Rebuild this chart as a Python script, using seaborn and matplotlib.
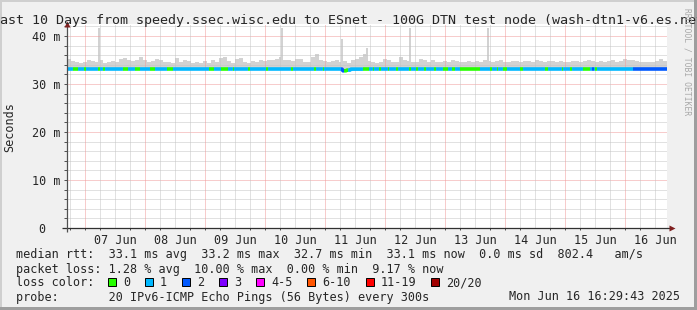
import numpy as np
import pandas as pd
import matplotlib
matplotlib.use("Agg")
import matplotlib.pyplot as plt
from matplotlib.patches import Rectangle
from matplotlib.lines import Line2D
from matplotlib.ticker import MultipleLocator, FixedLocator
import seaborn as sns

# ---------------- data ----------------
start = pd.Timestamp("2025-06-06 16:48")
end = pd.Timestamp("2025-06-16 16:48")
span_hours = 240.0
bin_hours = 1.6          # width of one smoke bin

# smoke (max rtt per bin, ms)
smoke_max = [
    35.3, 34.8, 34.5, 34.3, 34.6, 35.1, 34.8, 34.6, 34.9, 34.4, 34.6, 34.8, 34.5, 35.2, 35.5, 34.9, 34.7, 35.1, 35.7, 35.0, 34.6, 34.8, 35.2, 34.9, 34.5,
    34.6, 34.3, 35.5, 34.5, 35.1, 34.8, 34.3, 34.6, 34.4, 34.8, 34.3, 34.9, 34.5, 35.5, 35.7, 34.8, 34.4, 35.2, 35.4, 34.6, 34.3, 34.7, 34.5, 35.0, 34.7,
    34.9, 34.9, 35.3, 35.6, 34.9, 34.9, 34.8, 35.2, 35.2, 34.6, 34.5, 35.6, 36.3, 34.9, 34.8, 34.5, 34.8, 34.9, 34.5, 34.7, 34.4, 34.9, 35.2, 35.6, 36.3,
    34.7, 34.5, 34.3, 34.6, 35.2, 35.1, 34.6, 34.5, 35.6, 34.9, 34.8, 34.6, 34.5, 35.2, 35.1, 34.5, 34.9, 34.6, 34.5, 34.8, 34.5, 34.9, 34.8, 34.6, 34.5,
    34.8, 34.5, 34.7, 34.6, 34.9, 34.7, 34.5, 34.8, 34.9, 34.6, 34.5, 34.8, 34.7, 34.5, 34.8, 34.7, 34.6, 34.9, 34.7, 34.5, 34.8, 34.7, 34.6, 34.8, 34.5,
    34.6, 34.8, 34.7, 34.5, 34.8, 34.9, 34.7, 34.5, 34.8, 34.6, 34.7, 34.9, 34.5, 34.8, 35.3, 35.1, 34.9, 34.7, 34.6, 34.5, 34.6, 34.5, 34.8, 35.3, 34.7,
]
smoke_min = 32.9

# isolated spikes (hours from start, max rtt ms)
spike_hours = [12.4, 85.6, 109.6, 119.6, 136.8, 168.0]
spike_max = [41.7, 41.7, 39.4, 37.5, 41.7, 41.7]

# median rtt per smoke bin (ms)
median_rtt = [33.1] * 69 + [32.75, 32.9] + [33.1] * 79

# loss events (start hour, end hour, lost pings); default loss is 1
base_loss = 1
loss_events = [
    (2.4, 4.4, 0), (6.8, 7.6, 0), (12.4, 13.2, 0), (14.4, 15.2, 0), (22.4, 24.4, 0),
    (27.2, 29.2, 0), (33.2, 35.2, 0), (40.0, 42.4, 0), (56.8, 58.8, 0), (61.6, 64.4, 0),
    (66.4, 66.8, 0), (72.4, 73.2, 0), (79.6, 80.4, 0), (89.6, 90.4, 0), (98.8, 99.6, 0),
    (102.4, 102.8, 0), (109.6, 110.8, 2), (110.8, 112.4, 0), (118.4, 120.8, 0), (122.4, 122.8, 0),
    (124.8, 125.6, 0), (128.4, 128.8, 0), (131.6, 132.4, 0), (136.8, 137.6, 0), (139.6, 140.4, 0),
    (142.8, 143.6, 0), (146.8, 147.6, 0), (150.4, 152.4, 0), (154.0, 155.2, 0), (157.2, 165.2, 0),
    (169.2, 170.0, 0), (172.0, 172.4, 0), (174.4, 176.0, 0), (181.2, 182.4, 0), (191.2, 192.4, 0),
    (198.0, 198.4, 0), (201.2, 202.0, 0), (206.4, 209.2, 0), (210.0, 210.8, 2), (211.2, 212.0, 0),
    (226.4, 240.0, 2),
]

loss_labels = ["0", "1", "2", "3", "4-5", "6-10", "11-19", "20/20"]
loss_colors = ["#26ff00", "#00b8ff", "#0059ff", "#7e00ff", "#ff00ff", "#ff5500", "#ff0000", "#a10000"]

rtt_line = "median rtt:  33.1 ms avg  33.2 ms max  32.7 ms min  33.1 ms now  0.0 ms sd  802.4   am/s"
loss_line = "packet loss: 1.28 % avg  10.00 % max  0.00 % min  9.17 % now"
probe_line = "probe:       20 IPv6-ICMP Echo Pings (56 Bytes) every 300s"
stamp_text = "Mon Jun 16 16:29:43 2025"
title_text = "Last 10 Days from speedy.ssec.wisc.edu to ESnet - 100G DTN test node (wash-dtn1-v6.es.net)"

# ---------------- style ----------------
sns.set_style("white")
plt.rcParams["font.family"] = ["DejaVu Sans Mono", "DejaVu Sans"]
plt.rcParams["lines.solid_capstyle"] = "butt"

W, H = 697, 310
fig = plt.figure(figsize=(W / 100, H / 100), dpi=100, facecolor="#f0f0f0")
L, R, B, T = 67, 667, 228, 24
ax = fig.add_axes([L / W, 1 - B / H, (R - L) / W, (B - T) / H])
ax.set_facecolor("white")
ax.set_xlim(0, span_hours)
ax.set_ylim(0, 42.5)
for s in ax.spines.values():
    s.set_visible(False)

# smoke
smoke_color = "#d2d2d2"
edges = np.arange(len(smoke_max) + 1) * bin_hours
ax.fill_between(edges, smoke_min, list(smoke_max) + [smoke_max[-1]], step="post",
                color=smoke_color, linewidth=0, zorder=1)
ax.bar(spike_hours, np.array(spike_max) - smoke_min, bottom=smoke_min, width=0.8,
       align="edge", color=smoke_color, linewidth=0, zorder=1)

# grid
grid_kw = dict(linestyle=(0, (1, 1)), linewidth=0.72, zorder=2)
for yv in np.arange(2, 42.5, 2):
    if yv % 10 == 0:
        ax.axhline(yv, color="#f09a9a", **grid_kw)
    else:
        ax.axhline(yv, color="#c4c4c4", **grid_kw)
days = pd.date_range("2025-06-07", "2025-06-16", freq="D")
hour_of = lambda ts: (ts - start) / pd.Timedelta(hours=1)
for d in days:
    ax.axvline(hour_of(d), color="#f09a9a", **grid_kw)
six = pd.date_range("2025-06-06 18:00", end, freq="6h")
for tt in six:
    if tt.hour != 0:
        ax.axvline(hour_of(tt), color="#c4c4c4", **grid_kw)

# median line coloured by loss
n = int(span_hours / 0.4)
hs = np.arange(n) * 0.4
loss = np.full(n, base_loss)
for a, b, v in loss_events:
    loss[(hs >= a - 1e-6) & (hs < b - 1e-6)] = v
med = np.array([median_rtt[min(int(h / bin_hours), len(median_rtt) - 1)] for h in hs])
rows = []
seg = 0
i = 0
while i < n:
    j = i
    while j < n and loss[j] == loss[i]:
        j += 1
    x_end = hs[j] if j < n else span_hours
    y_end = med[j] if j < n else med[-1]
    for k in range(i, j):
        rows.append((hs[k], med[k], loss_labels[loss[i]], seg))
    rows.append((x_end, y_end, loss_labels[loss[i]], seg))
    seg += 1
    i = j
df = pd.DataFrame(rows, columns=["h", "rtt", "loss", "seg"])
pal = {lab: col for lab, col in zip(loss_labels, loss_colors)}
sns.lineplot(data=df, x="h", y="rtt", hue="loss", units="seg", estimator=None,
             palette=pal, legend=False, linewidth=2.6, sort=False, ax=ax, zorder=3)
ax.set_xlabel("")
ax.set_ylabel("")

# ticks
fs = 8.45
ax.yaxis.set_major_locator(MultipleLocator(10))
ax.yaxis.set_minor_locator(MultipleLocator(2))
ax.set_yticklabels(["0  " if v == 0 else f"{int(v)} m" for v in ax.get_yticks()])
ax.tick_params(axis="y", which="both", direction="out", length=2.5, width=0.7,
               color="#505050", pad=2.5, labelsize=fs, left=True)
noons = pd.date_range("2025-06-07 12:00", "2025-06-16 12:00", freq="D")
ax.xaxis.set_major_locator(FixedLocator([hour_of(t) for t in noons]))
ax.set_xticklabels([t.strftime("%d %b") for t in noons])
ax.xaxis.set_minor_locator(FixedLocator([hour_of(t) for t in six]))
ax.tick_params(axis="x", which="major", length=0, pad=4, labelsize=fs, bottom=True)
ax.tick_params(axis="x", which="minor", direction="out", length=1.5, width=0.7,
               color="#505050", bottom=True)

# axes with arrows
ax.add_line(Line2D([-5 / 600, 1.006], [0, 0], transform=ax.transAxes, color="#303030",
                   linewidth=0.9, clip_on=False, zorder=5))
ax.add_line(Line2D([0, 0], [-4 / 204, 1.0], transform=ax.transAxes, color="#505050",
                   linewidth=0.9, clip_on=False, zorder=5))
ax.plot([1.008], [0], marker=">", ms=5, color="#7f1f1f", mec="none",
        transform=ax.transAxes, clip_on=False, zorder=6)
ax.plot([0], [1.0], marker="^", ms=5, color="#7f1f1f", mec="none",
        transform=ax.transAxes, clip_on=False, zorder=6)

# title and side labels
fig.text(352 / W, 1 - 24 / H, title_text, ha="center", va="baseline", fontsize=9.6)
fig.text(10 / W, 1 - 127 / H, "Seconds", rotation=90, ha="center", va="center", fontsize=fs)
fig.text(687 / W, 1 - 62 / H, "RRDTOOL / TOBI OETIKER", rotation=270, ha="center",
         va="center", fontsize=5.8, color="#a8a8a8")

# legend block
pitch = 7.05
fig.text(16 / W, 1 - 258 / H, rtt_line, ha="left", va="baseline", fontsize=fs)
fig.text(16 / W, 1 - 272.5 / H, loss_line, ha="left", va="baseline", fontsize=fs)
fig.text(16 / W, 1 - 286 / H, "loss color:", ha="left", va="baseline", fontsize=fs)
bx = 108
for lab, col in zip(loss_labels, loss_colors):
    fig.patches.append(Rectangle((bx / W, 1 - 286 / H), 8 / W, 8 / H, transform=fig.transFigure,
                                 facecolor=col, edgecolor="black", linewidth=0.7))
    fig.text((bx + 15) / W, 1 - 286 / H, lab, ha="left", va="baseline", fontsize=fs)
    bx = bx + 15 + len(lab) * pitch + 15
fig.text(16 / W, 1 - 300.5 / H, probe_line, ha="left", va="baseline", fontsize=fs)
fig.text(680 / W, 1 - 300.5 / H, stamp_text, ha="right", va="baseline", fontsize=fs)

# frame shading
fig.patches.append(Rectangle((0, 1 - 2 / H), 1, 2 / H, transform=fig.transFigure, color="#cfcfcf", lw=0))
fig.patches.append(Rectangle((0, 0), 2 / W, 1, transform=fig.transFigure, color="#cfcfcf", lw=0))
fig.patches.append(Rectangle((0, 0), 1, 3 / H, transform=fig.transFigure, color="#9e9e9e", lw=0))
fig.patches.append(Rectangle((1 - 3 / W, 0), 3 / W, 1, transform=fig.transFigure, color="#9e9e9e", lw=0))

fig.savefig("out.png", dpi=100, facecolor=fig.get_facecolor())
